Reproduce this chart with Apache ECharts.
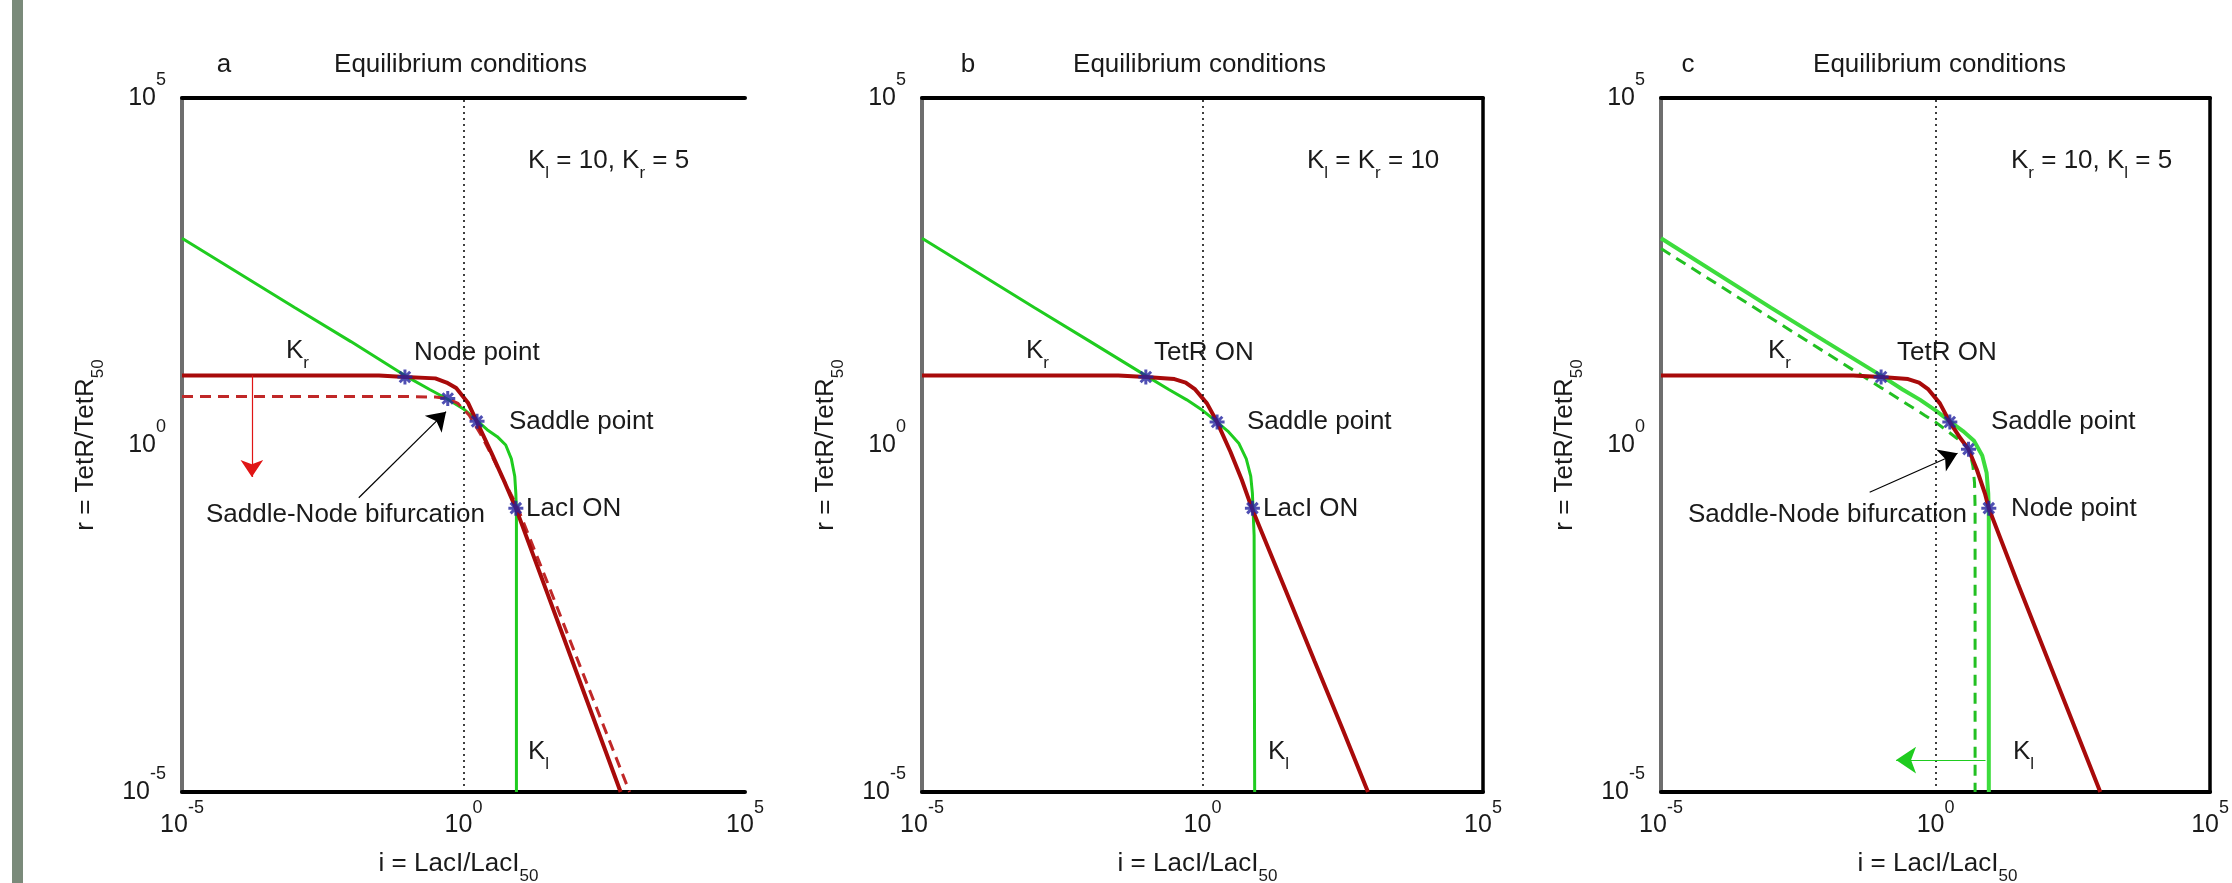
<!DOCTYPE html>
<html><head><meta charset="utf-8">
<script src="https://cdn.jsdelivr.net/npm/echarts@6/dist/echarts.min.js"></script>
<style>html,body{margin:0;padding:0;background:#fff}#c{width:2232px;height:883px}</style>
</head><body><div id="c"></div>
<script>
// ---------------- DATA (i = LacI/LacI50 , r = TetR/TetR50) ----------------
const axisMin = 1e-5, axisMax = 1e5;
const tickExponents = [-5, 0, 5];
const refLineI = 1;
const panelLetters = ['a', 'b', 'c'];
const panelTitle = 'Equilibrium conditions';

// Panel a  (solid red K_r = 10, dashed red K_r = 5, green K_l = 10)
const redA = [[1e-5,10],[0.0316,10],[0.0912,9.55],[0.316,9.12],[0.501,7.94],[0.741,6.61],[1.20,4.07],[1.74,2.14],[3.16,0.759],[5.01,0.331],[8.51,0.123],[31.6,0.00692],[100,5.5e-4],[316,4.37e-5],[617,1e-5]];
const redDashA = [[1e-5,5.01],[0.1,5.01],[0.316,4.9],[0.525,4.68],[0.794,3.98],[1.26,2.69],[2.0,1.445],[3.16,0.708],[5.01,0.331],[8.91,0.132],[31.6,0.01],[100,9.12e-4],[316,8.51e-5],[891,1e-5]];
const greenA = [[1e-5,955],[0.001,95.5],[0.01,30.9],[0.0912,10],[0.251,6.31],[0.525,4.57],[1,3.31],[1.74,2.24],[2.63,1.66],[3.98,1.318],[5.62,1],[7.08,0.631],[8.13,0.355],[8.51,0.2],[8.71,0.1],[8.71,1e-5]];
const pointsA = [[0.0912,9.55],[0.525,4.68],[1.74,2.19],[8.51,0.123]];
const redArrowA = [[1.74e-4,10],[1.74e-4,0.347]];
const blackArrowA = [[0.0138,0.174],[0.49,3.02]];

// Panel b  (K_l = K_r = 10)
const redB = [[1e-5,10],[0.0316,10],[0.0977,9.55],[0.316,8.91],[0.501,7.94],[0.741,6.31],[1.20,3.98],[1.82,2.14],[3.16,0.794],[5.01,0.316],[7.59,0.123],[31.6,0.00741],[100,7.59e-4],[316,7.94e-5],[891,1e-5]];
const greenB = [[1e-5,955],[0.001,95.5],[0.01,30.9],[0.0977,10],[0.251,6.31],[0.525,4.47],[1,3.16],[1.82,2.14],[2.82,1.585],[4.47,1.047],[6.03,0.631],[7.24,0.355],[7.76,0.2],[7.94,0.123],[8.32,0.0501],[8.51,1e-5]];
const pointsB = [[0.0977,9.55],[1.82,2.14],[7.76,0.123]];

// Panel c  (red K_r = 10, solid green K_l = 10, dashed green K_l = 5)
const redC = [[1e-5,10],[0.0316,10],[0.102,9.55],[0.316,8.91],[0.501,7.94],[0.741,6.31],[1.20,3.98],[1.82,2.14],[2.82,1.259],[3.98,0.871],[5.62,0.447],[7.94,0.2],[9.33,0.123],[31.6,0.01],[100,0.001],[316,1e-4],[1000,1e-5]];
const greenC = [[1e-5,955],[0.001,95.5],[0.01,30.9],[0.102,10],[0.251,6.31],[0.525,4.47],[1,3.16],[1.82,2.19],[3.16,1.585],[5.01,1.148],[7.08,0.708],[8.51,0.398],[9.12,0.2],[9.33,0.1],[9.33,1e-5]];
const greenDashC = [[1e-5,676],[0.001,67.6],[0.01,21.4],[0.1,6.76],[0.316,3.80],[0.631,2.69],[1,2.14],[1.585,1.622],[2.51,1.23],[3.55,1],[4.27,0.759],[4.79,0.501],[5.13,0.282],[5.25,0.126],[5.25,1e-5]];
const pointsC = [[0.102,9.55],[1.82,2.14],[3.98,0.871],[9.33,0.123]];
const blackArrowC = [[0.0631,0.209],[2.51,0.759]];
const greenArrowC = [[8.13,2.88e-5],[0.191,2.88e-5]];

// ---------------- STYLE / LAYOUT ----------------
const FONT = "'Liberation Sans', Arial, Helvetica, sans-serif";
const TXT = '#1a1a1a';
const RED = '#a80a0a', RED_D = '#c02828', GREEN = '#1fcc1f', GREEN_C = '#3cdc3c', MARK = '#2323a0';
const STAR = 'path://M-1,-5L1,-5L1,5L-1,5Z M-5,-1L5,-1L5,1L-5,1Z M-2.8,-4.2L4.2,2.8L2.8,4.2L-4.2,-2.8Z M-4.2,2.8L2.8,-4.2L4.2,-2.8L-2.8,4.2Z';
const grids = [
  {left: 182, top: 98, width: 563, height: 694},
  {left: 922, top: 98, width: 561, height: 694},
  {left: 1661, top: 98, width: 563, height: 694}
];
const RICH_T = {
  b: {fontSize: 25, fontFamily: FONT, color: TXT, padding: [14, 0, 14, 0], verticalAlign: 'middle'},
  s: {fontSize: 18, fontFamily: FONT, color: TXT, verticalAlign: 'top'}
};
const RICH = {
  b: {fontSize: 26, fontFamily: FONT, fill: TXT, color: TXT, padding: [8, 0, 8, 0], verticalAlign: 'middle'},
  sub: {fontSize: 17, fontFamily: FONT, fill: TXT, color: TXT, verticalAlign: 'bottom'}
};
function tickFmt(v) {
  const l = Math.log10(v), e = Math.round(l);
  if (Math.abs(l - e) > 0.01 || tickExponents.indexOf(e) < 0) return '';
  return '{b|10}{s|' + e + '}';
}

const xAxes = [], yAxes = [];
grids.forEach((g, k) => {
  xAxes.push({type: 'log', logBase: 10, gridIndex: k, min: axisMin, max: axisMax, position: 'bottom',
    axisLine: {show: true, onZero: false, lineStyle: {color: '#000', width: 4}},
    axisTick: {show: false}, splitLine: {show: false}, minorTick: {show: false},
    axisLabel: {show: true, formatter: tickFmt, rich: RICH_T, margin: 7, hideOverlap: false}});
  yAxes.push({type: 'log', logBase: 10, gridIndex: k, min: axisMin, max: axisMax, position: 'left',
    axisLine: {show: true, onZero: false, lineStyle: {color: '#6e6e6e', width: 4}},
    axisTick: {show: false}, splitLine: {show: false}, minorTick: {show: false},
    axisLabel: {show: true, formatter: tickFmt, rich: RICH_T, margin: 16, hideOverlap: false}});
});
grids.forEach((g, k) => {
  xAxes.push({type: 'log', logBase: 10, gridIndex: k, min: axisMin, max: axisMax, position: 'top',
    axisLine: {show: true, onZero: false, lineStyle: {color: '#000', width: 4}},
    axisTick: {show: false}, splitLine: {show: false}, axisLabel: {show: false}});
  yAxes.push({type: 'log', logBase: 10, gridIndex: k, min: axisMin, max: axisMax, position: 'right',
    axisLine: {show: k > 0, onZero: false, lineStyle: {color: '#000', width: 3.5}},
    axisTick: {show: false}, splitLine: {show: false}, axisLabel: {show: false}});
});

function line(k, data, color, width, type, z) {
  return {type: 'line', xAxisIndex: k, yAxisIndex: k, data: data, showSymbol: false, symbol: 'none',
    silent: true, clip: true, z: z || 2, lineStyle: {color: color, width: width, type: type || 'solid'}};
}
function refLine(k) {
  return {type: 'line', xAxisIndex: k, yAxisIndex: k, data: [[refLineI, 1]], showSymbol: false, symbol: 'none',
    lineStyle: {opacity: 0}, silent: true, z: 1,
    markLine: {silent: true, symbol: 'none', label: {show: false}, animation: false,
      lineStyle: {color: '#000', width: 1.5, type: [2, 4]}, data: [{xAxis: refLineI}]}};
}
function marks(k, data) {
  return {type: 'scatter', xAxisIndex: k, yAxisIndex: k, data: data, symbol: STAR, symbolSize: 15,
    itemStyle: {color: MARK}, silent: true, z: 6};
}
function arrow(k, coords, color, size) {
  return {type: 'lines', coordinateSystem: 'cartesian2d', xAxisIndex: k, yAxisIndex: k, silent: true, z: 7,
    symbol: ['none', 'arrow'], symbolSize: size, lineStyle: {color: color, width: 1.2, opacity: 1},
    data: [{coords: coords}]};
}

const series = [
  refLine(0), refLine(1), refLine(2),
  line(0, greenA, GREEN, 3), line(0, redDashA, RED_D, 3, [11, 7], 3), line(0, redA, RED, 4, 'solid', 4),
  marks(0, pointsA), arrow(0, redArrowA, '#e01515', 17), arrow(0, blackArrowA, '#000', 18),
  line(1, greenB, GREEN, 3), line(1, redB, RED, 4, 'solid', 4), marks(1, pointsB),
  line(2, greenC, GREEN_C, 4), line(2, greenDashC, '#22c022', 3, [11, 7], 3), line(2, redC, RED, 4, 'solid', 4),
  marks(2, pointsC), arrow(2, blackArrowC, '#000', 18), arrow(2, greenArrowC, GREEN, 20)
];

// ---------------- TEXT ----------------
function t(text, x, y, align, extra) {
  const o = {type: 'text', x: x, y: y, silent: true, z: 20,
    style: {text: text, rich: RICH, font: '26px ' + FONT, fill: TXT, align: align || 'left', verticalAlign: 'middle'}};
  return Object.assign(o, extra || {});
}
const texts = [];
grids.forEach((g, k) => {
  const cx = g.left + g.width / 2;
  texts.push(t(panelLetters[k], g.left + 42 - (k === 2 ? 15 : 0) + (k === 1 ? 4 : 0), 65, 'center'));
  texts.push(t(panelTitle, cx - 3, 65, 'center'));
  texts.push(t('{b|i = LacI/LacI}{sub|50}', cx - 5, 864, 'center'));
  texts.push(t('{b|r = TetR/TetR}{sub|50}', g.left - 96, 445, 'center', {rotation: Math.PI / 2}));
});
// panel a
texts.push(t('{b|K}{sub|l}{b| = 10, K}{sub|r}{b| = 5}', 528, 161));
texts.push(t('{b|K}{sub|r}', 286, 351));
texts.push(t('Node point', 414, 353));
texts.push(t('Saddle point', 509, 422));
texts.push(t('Saddle-Node bifurcation', 206, 515));
texts.push(t('LacI ON', 526, 509));
texts.push(t('{b|K}{sub|l}', 528, 752));
// panel b
texts.push(t('{b|K}{sub|l}{b| = K}{sub|r}{b| = 10}', 1307, 161));
texts.push(t('{b|K}{sub|r}', 1026, 351));
texts.push(t('TetR ON', 1154, 353));
texts.push(t('Saddle point', 1247, 422));
texts.push(t('LacI ON', 1263, 509));
texts.push(t('{b|K}{sub|l}', 1268, 752));
// panel c
texts.push(t('{b|K}{sub|r}{b| = 10, K}{sub|l}{b| = 5}', 2011, 161));
texts.push(t('{b|K}{sub|r}', 1768, 351));
texts.push(t('TetR ON', 1897, 353));
texts.push(t('Saddle point', 1991, 422));
texts.push(t('Saddle-Node bifurcation', 1688, 515));
texts.push(t('Node point', 2011, 509));
texts.push(t('{b|K}{sub|l}', 2013, 752));

const graphic = [{type: 'rect', shape: {x: 12, y: 0, width: 11, height: 883}, style: {fill: '#7a8a7a'}, silent: true, z: 0}].concat(texts);

const chart = echarts.init(document.getElementById('c'), null, {renderer: 'canvas'});
chart.setOption({
  animation: false,
  backgroundColor: '#ffffff',
  textStyle: {fontFamily: FONT},
  grid: grids,
  xAxis: xAxes,
  yAxis: yAxes,
  series: series,
  graphic: graphic
});
</script>
</body></html>
